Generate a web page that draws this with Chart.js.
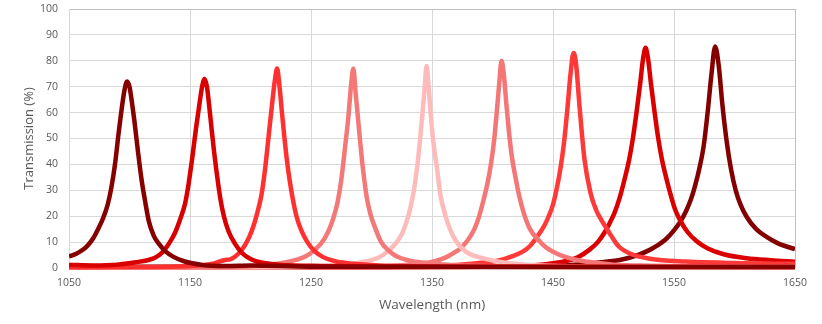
<!DOCTYPE html>
<html>
<head>
<meta charset="utf-8">
<script src="https://cdn.jsdelivr.net/npm/chart.js@4.4.1/dist/chart.umd.min.js"></script>
<style>
  html, body { margin: 0; padding: 0; background: #fff; }
  #wrap { width: 822px; height: 324px; }
</style>
</head>
<body>
<div id="wrap"><canvas id="specChart" width="822" height="324"></canvas></div>
<script>
// wavelength (nm) / transmission (%), one pair per filter
const wl1 = [1050, 1056, 1062, 1066, 1070, 1074, 1078, 1082, 1085, 1088, 1091, 1094, 1096, 1098, 1100, 1102, 1104, 1107, 1110, 1113, 1116, 1120, 1124, 1130, 1136, 1145, 1160, 1180, 1200, 1250, 1300, 1400, 1500, 1650];
const tr1 = [4.5, 5.5, 7.2, 9.0, 11.5, 15, 19, 24.5, 31, 40, 52, 63, 69, 72, 70, 64, 57, 45, 34, 25.5, 18, 12.5, 9.5, 6.3, 4.4, 2.6, 1.2, 0.8, 1.0, 0.5, 0.5, 0.4, 0.4, 0.4];

const wl2 = [1050, 1070, 1090, 1105, 1115, 1122, 1128, 1134, 1138, 1142, 1146, 1149, 1152, 1155, 1158, 1160, 1162, 1164, 1166, 1168, 1170, 1172, 1175, 1178, 1182, 1187, 1193, 1200, 1210, 1225, 1260, 1350, 1500, 1650];
const tr2 = [1.2, 1.0, 1.3, 2.2, 3.0, 4.2, 6.5, 10.5, 14, 19, 25, 33, 43, 54, 64, 70, 73, 70, 62, 53, 44.5, 37, 27, 20, 14, 9.5, 5.8, 3.5, 2.0, 1.2, 0.8, 0.5, 0.4, 0.4];

const wl3 = [1050, 1100, 1150, 1170, 1178, 1184, 1190, 1195, 1199, 1203, 1206, 1209, 1212, 1215, 1218, 1220, 1222, 1224, 1226, 1228, 1230, 1232, 1235, 1238, 1242, 1247, 1253, 1260, 1270, 1285, 1310, 1400, 1650];
const tr3 = [0.3, 0.4, 0.8, 1.8, 3.0, 3.5, 5.5, 8.5, 12, 17, 22, 28, 38, 51, 64, 72, 77, 70, 60, 50.5, 42, 35, 26.5, 20, 14.5, 10, 6.5, 4.2, 2.6, 1.6, 0.9, 0.5, 0.4];

const wl4 = [1050, 1150, 1200, 1225, 1235, 1242, 1248, 1253, 1258, 1262, 1266, 1269, 1272, 1275, 1278, 1281, 1283, 1285, 1287, 1289, 1291, 1293, 1296, 1299, 1303, 1308, 1314, 1321, 1330, 1345, 1370, 1450, 1650];
const tr4 = [0.2, 0.3, 0.7, 1.8, 2.8, 3.8, 5.2, 7.0, 9.3, 12, 16, 20, 25.5, 34, 46, 59, 70, 77, 67, 57, 47, 38, 27.5, 21, 15.5, 10, 6.8, 4.4, 3.0, 1.9, 1.1, 0.6, 0.4];

const wl5 = [1050, 1200, 1260, 1285, 1296, 1303, 1309, 1315, 1320, 1325, 1329, 1332, 1335, 1338, 1340, 1342, 1344, 1345.5, 1347, 1349, 1351, 1354, 1357, 1360, 1364, 1369, 1375, 1382, 1392, 1405, 1430, 1500, 1650];
const tr5 = [0.2, 0.3, 0.7, 1.6, 2.6, 3.5, 4.9, 7.0, 9.5, 13, 18, 23, 30, 40, 49, 59, 70, 78, 71, 59, 49, 39, 28, 22, 16, 11, 7.5, 5.2, 3.8, 2.4, 1.2, 0.6, 0.4];

const wl6 = [1050, 1250, 1320, 1345, 1355, 1362, 1368, 1374, 1380, 1385, 1389, 1393, 1396, 1399, 1401.5, 1403.5, 1405.5, 1407.5, 1409.5, 1411.5, 1413.5, 1416, 1419, 1422, 1426, 1431, 1438, 1444, 1450, 1460, 1470, 1485, 1500, 1530, 1580, 1650];
const tr6 = [0.2, 0.3, 1.0, 1.9, 3.0, 4.2, 5.8, 7.8, 11, 15, 20, 27, 33, 41, 50, 60, 71, 80, 74, 63, 53, 43, 35, 28, 21, 15, 10.8, 8, 6.3, 4.3, 3.1, 2.0, 1.3, 0.9, 0.6, 0.5];

const wl7 = [1050, 1300, 1370, 1395, 1406, 1416, 1425, 1431, 1435, 1439, 1443, 1446, 1450, 1453, 1456, 1459, 1462, 1464.5, 1467, 1469, 1472, 1476, 1481, 1486, 1490, 1494, 1498, 1504, 1514, 1530, 1560, 1600, 1650];
const tr7 = [0.2, 0.4, 1.2, 2.2, 3.0, 4.5, 6.3, 8.5, 10.8, 13.5, 16.5, 19.5, 24.5, 30.5, 38, 48, 62, 75, 83, 79, 62, 42, 29, 22, 18.5, 15.5, 12.5, 8.5, 5.5, 3.6, 2.5, 1.9, 1.6];

const wl8 = [1050, 1300, 1400, 1440, 1460, 1470, 1480, 1487, 1493, 1497, 1501, 1505, 1509, 1513, 1516, 1519, 1522, 1524.5, 1526.5, 1528.5, 1531, 1534, 1537, 1540, 1544, 1548, 1551, 1555, 1561, 1569, 1578, 1591, 1610, 1630, 1650];
const tr8 = [0.2, 0.3, 0.6, 1.3, 2.6, 4, 7, 10, 14, 17.5, 21.5, 27, 34, 42, 50, 60, 71, 81, 85, 81, 71, 60, 50, 42, 34, 27, 22.5, 18.5, 14, 10.2, 7.5, 5.3, 3.8, 3, 2.4];

const wl9 = [1050, 1300, 1400, 1460, 1490, 1508, 1520, 1530, 1536, 1543, 1550, 1556, 1560, 1564, 1567, 1571, 1574.5, 1578, 1581, 1584, 1587, 1590, 1593.5, 1597, 1601, 1605, 1610, 1618, 1626.5, 1636, 1643, 1650];
const tr9 = [0.5, 0.5, 0.5, 1.0, 2.2, 3.4, 5, 7, 8.6, 11, 14.5, 18.5, 22, 26.5, 31, 38.5, 47, 61, 75, 85.5, 78, 63, 49, 38.5, 30, 24.5, 19.8, 15, 12, 9.5, 8.3, 7.3];

const xTicks = [1050, 1150, 1250, 1350, 1450, 1550, 1650];
const yTicks = [0, 10, 20, 30, 40, 50, 60, 70, 80, 90, 100];

const curves = [
  [wl1, tr1, "#860000"],
  [wl2, tr2, "#d80000"],
  [wl3, tr3, "#ff3030"],
  [wl4, tr4, "#f57878"],
  [wl5, tr5, "#ffbaba"],
  [wl6, tr6, "#f57676"],
  [wl7, tr7, "#ff3838"],
  [wl8, tr8, "#da0000"],
  [wl9, tr9, "#840000"],
];

const textColor = "#595959";
const gridColor = "#d9d9d9";

const ctx = document.getElementById("specChart").getContext("2d");
const specChart = new Chart(ctx, {
  type: "line",
  data: {
    datasets: curves.map(([wl, tr, color]) => ({
      data: wl.map((x, i) => ({ x: x, y: tr[i] })),
      borderColor: color,
      borderWidth: 4.5,
      pointRadius: 0,
      fill: false,
      cubicInterpolationMode: "monotone",
      clip: { left: 0, right: 0, top: 0, bottom: 3 },
    })),
  },
  options: {
    responsive: false,
    animation: false,
    layout: { padding: { left: 0, top: 9, right: 27, bottom: 0 } },
    plugins: {
      legend: { display: false },
      tooltip: { enabled: false },
    },
    scales: {
      x: {
        type: "linear",
        min: 1050,
        max: 1650,
        afterBuildTicks: (scale) => {
          scale.ticks = xTicks.map((v) => ({ value: v }));
        },
        afterFit: (scale) => {
          scale.height = 56;
        },
        ticks: {
          color: textColor,
          font: { family: "Open Sans", size: 10.5 },
          padding: 9,
          maxRotation: 0,
          callback: (v) => String(v),
        },
        grid: {
          color: (c) => (c.tick && c.tick.value === 1650 ? "#c0c0c0" : gridColor),
          drawTicks: false,
        },
        border: { display: false },
        title: {
          display: true,
          text: "Wavelength (nm)",
          color: textColor,
          font: { family: "Open Sans", size: 13.5 },
          padding: { top: 0, bottom: 11 },
        },
      },
      y: {
        min: 0,
        max: 100,
        afterBuildTicks: (scale) => {
          scale.ticks = yTicks.map((v) => ({ value: v }));
        },
        afterFit: (scale) => {
          scale.width = 69;
          scale.paddingTop = 0;
          scale.paddingBottom = 0;
        },
        ticks: {
          color: textColor,
          font: { family: "Open Sans", size: 10.5 },
          padding: 11,
          callback: (v) => String(v),
        },
        grid: {
          color: (c) => (c.tick && c.tick.value === 100 ? "#c0c0c0" : gridColor),
          drawTicks: false,
        },
        border: { display: true, color: gridColor },
        title: {
          display: true,
          text: "Transmission (%)",
          color: textColor,
          font: { family: "Open Sans", size: 13 },
          padding: { top: 21, bottom: 0 },
        },
      },
    },
  },
});
</script>
</body>
</html>
